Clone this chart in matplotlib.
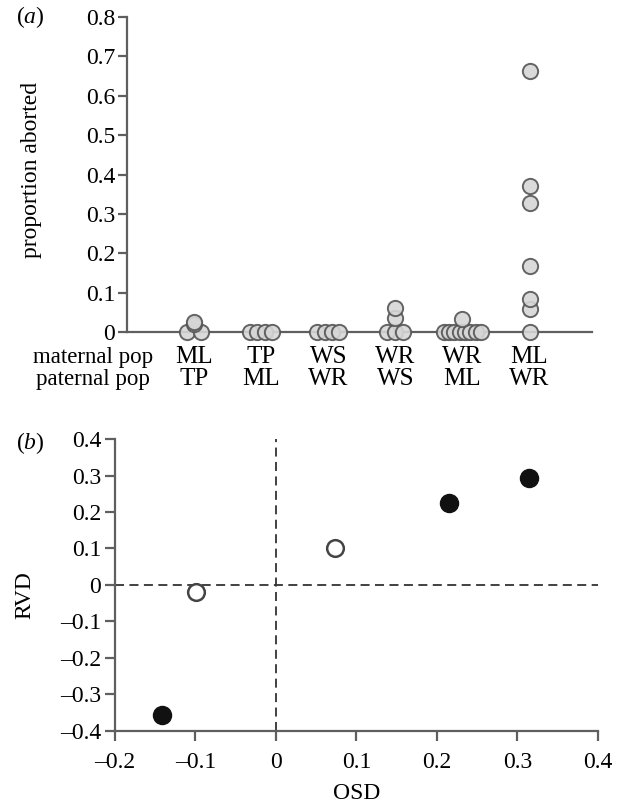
import matplotlib
matplotlib.use("Agg")
import matplotlib.pyplot as plt
import matplotlib.transforms as mtransforms
from matplotlib.ticker import FuncFormatter
import numpy as np

plt.rcParams['font.family'] = ['Liberation Serif', 'DejaVu Serif']
plt.rcParams['mathtext.fontset'] = 'custom'
plt.rcParams['mathtext.rm'] = 'Liberation Serif'
plt.rcParams['mathtext.it'] = 'Liberation Serif:italic'

# panel (a) data: proportion aborted per cross
maternal = ["ML", "TP", "WS", "WR", "WR", "ML"]
paternal = ["TP", "ML", "WR", "WS", "ML", "WR"]
aborted = [
    [0, 0, 0.02, 0.025],
    [0, 0, 0, 0],
    [0, 0, 0, 0],
    [0, 0, 0, 0.035, 0.062],
    [0, 0, 0, 0, 0, 0, 0, 0, 0.033],
    [0, 0.058, 0.083, 0.167, 0.328, 0.372, 0.664],
]

# panel (b) data
osd = [-0.141, -0.099, 0.073, 0.215, 0.315]
rvd = [-0.355, -0.02, 0.102, 0.226, 0.294]
filled = [True, False, False, True, True]

AX_COL = "#5f5f5f"
FS_TICK = 17
FS_CAT = 18
FS_LAB = 17


def fmt(v, pos):
    if abs(v) < 1e-9:
        return "0"
    s = "%.1f" % abs(v)
    return ("\u2013" + s) if v < 0 else s


fig = plt.figure(figsize=(6.19, 8.07), dpi=100)

# ---------------- panel (a)
axA = fig.add_axes([0.2052, 0.5886, 0.751, 0.3903])
zero_step = [0.22, 0.11, 0.11, 0.12, 0.08, 0.11]
for i, vals in enumerate(aborted):
    vals = np.array(vals)
    nz = np.sum(vals == 0)
    xs = np.full(len(vals), float(i))
    xs[vals == 0] = i + (np.arange(nz) - (nz - 1) / 2.0) * zero_step[i]
    axA.plot(xs, vals, 'o', ms=11, mfc="#d6d6d6", mec="#555555", mew=1.4,
             alpha=0.9, clip_on=False, zorder=3)

axA.set_xlim(-1.0, 5.93)
axA.set_ylim(0, 0.8)
axA.set_yticks(np.arange(0, 0.81, 0.1))
axA.yaxis.set_major_formatter(FuncFormatter(fmt))
axA.set_xticks([])
for s in ["top", "right"]:
    axA.spines[s].set_visible(False)
for s in ["left", "bottom"]:
    axA.spines[s].set_color(AX_COL)
    axA.spines[s].set_linewidth(1.6)
axA.spines["bottom"].set_zorder(1)
axA.tick_params(axis='y', direction='out', length=6.5, width=1.6, color=AX_COL,
                labelsize=FS_TICK, pad=2)
axA.set_ylabel("proportion aborted", fontsize=FS_LAB)
axA.yaxis.set_label_coords(-0.183, 0.514)

trA = mtransforms.blended_transform_factory(axA.transData, fig.transFigure)
for i in range(len(maternal)):
    axA.text(i, 1 - 357 / 807, maternal[i], transform=trA, ha="center",
             va="center", fontsize=FS_CAT)
    axA.text(i, 1 - 379 / 807, paternal[i], transform=trA, ha="center",
             va="center", fontsize=FS_CAT)
fig.text(93 / 619, 1 - 357 / 807, "maternal pop", ha="center", va="center", fontsize=16.5)
fig.text(93 / 619, 1 - 379 / 807, "paternal pop", ha="center", va="center", fontsize=16.5)
fig.text(30 / 619, 1 - 17 / 807, r"($\mathit{a}$)", ha="center", va="center", fontsize=FS_TICK)

# ---------------- panel (b)
axB = fig.add_axes([0.1858, 0.0942, 0.780, 0.3618])
axB.axhline(0, color="#333333", lw=1.3, ls=(0, (5, 3)), zorder=1)
axB.axvline(0, color="#333333", lw=1.3, ls=(0, (5, 3)), zorder=1)
for x, y, f in zip(osd, rvd, filled):
    if f:
        axB.plot(x, y, 'o', ms=13, mfc="#111111", mec="#111111", mew=1, zorder=3)
    else:
        axB.plot(x, y, 'o', ms=12, mfc="white", mec="#444444", mew=1.8, zorder=3)

axB.set_xlim(-0.2, 0.4)
axB.set_ylim(-0.4, 0.4)
axB.set_xticks(np.arange(-0.2, 0.41, 0.1))
axB.set_yticks(np.arange(-0.4, 0.41, 0.1))
axB.xaxis.set_major_formatter(FuncFormatter(fmt))
axB.yaxis.set_major_formatter(FuncFormatter(fmt))
for s in ["top", "right"]:
    axB.spines[s].set_visible(False)
for s in ["left", "bottom"]:
    axB.spines[s].set_color(AX_COL)
    axB.spines[s].set_linewidth(1.6)
axB.tick_params(direction='out', length=7, width=1.6, color=AX_COL,
                labelsize=FS_TICK)
axB.tick_params(axis='y', pad=3)
axB.tick_params(axis='x', pad=8)
axB.set_xlabel("OSD", fontsize=FS_LAB)
axB.xaxis.set_label_coords(0.5, -0.178)
axB.set_ylabel("RVD", fontsize=FS_LAB)
axB.yaxis.set_label_coords(-0.166, 0.465)
fig.text(30 / 619, 1 - 443 / 807, r"($\mathit{b}$)", ha="center", va="center", fontsize=FS_TICK)

fig.savefig("out.png", dpi=100)
